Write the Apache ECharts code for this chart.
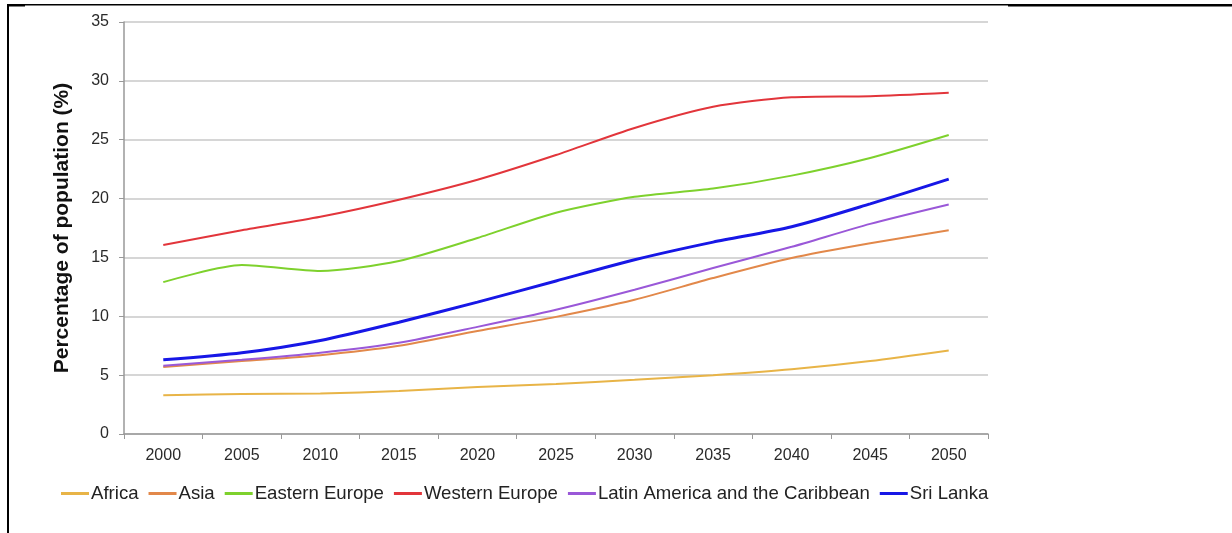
<!DOCTYPE html>
<html>
<head>
<meta charset="utf-8">
<script src="https://cdn.jsdelivr.net/npm/echarts@6/dist/echarts.min.js"></script>
<style>
  html, body { margin: 0; padding: 0; background: #fff; }
  #chart { width: 1232px; height: 533px; }
</style>
</head>
<body>
<div id="chart"></div>
<script>
// Share of population aged 60+ by region, 2000–2050
const years = ['2000', '2005', '2010', '2015', '2020', '2025', '2030', '2035', '2040', '2045', '2050'];
const africa = [3.3, 3.4, 3.45, 3.65, 4.0, 4.25, 4.6, 5.0, 5.5, 6.2, 7.1];
const asia = [5.7, 6.2, 6.7, 7.5, 8.75, 9.95, 11.4, 13.25, 14.95, 16.2, 17.3];
const easternEurope = [12.9, 14.35, 13.85, 14.7, 16.65, 18.8, 20.15, 20.85, 21.95, 23.45, 25.4];
const westernEurope = [16.05, 17.3, 18.45, 19.9, 21.6, 23.7, 26.0, 27.8, 28.6, 28.7, 29.0];
const latinAmerica = [5.8, 6.3, 6.9, 7.75, 9.1, 10.55, 12.25, 14.1, 15.9, 17.85, 19.5];
const sriLanka = [6.3, 6.9, 7.95, 9.5, 11.2, 13.0, 14.8, 16.3, 17.6, 19.55, 21.65];

const chart = echarts.init(document.getElementById('chart'));

function line(name, data, color, width) {
  return {
    name, type: 'line', data, smooth: 0.25, symbol: 'none',
    lineStyle: { color, width }, itemStyle: { color }
  };
}

chart.setOption({
  animation: false,
  backgroundColor: '#fff',
  textStyle: { fontFamily: 'Liberation Sans, Arial, sans-serif' },
  grid: { left: 124, right: 244, top: 22, bottom: 99 },
  graphic: [
    { type: 'rect', shape: { x: 7, y: 4, width: 2, height: 529 }, style: { fill: '#000' } },
    { type: 'rect', shape: { x: 7, y: 4, width: 1001, height: 1.5 }, style: { fill: '#000' } },
    { type: 'rect', shape: { x: 7, y: 4, width: 18, height: 2.5 }, style: { fill: '#000' } },
    { type: 'rect', shape: { x: 1008, y: 4, width: 224, height: 2.5 }, style: { fill: '#000' } }
  ],
  legend: {
    left: 56, top: 479,
    itemWidth: 28, itemHeight: 3, itemGap: 10,
    icon: 'rect',
    textStyle: { fontSize: 18.6, color: '#222', padding: [0, 0, 0, -3] },
    data: ['Africa', 'Asia', 'Eastern Europe', 'Western Europe', 'Latin America and the Caribbean', 'Sri Lanka']
  },
  xAxis: {
    type: 'category', data: years, boundaryGap: true,
    axisLine: { lineStyle: { color: '#999', width: 1.5 } },
    axisTick: { show: true, alignWithLabel: false, length: 5, lineStyle: { color: '#999' } },
    axisLabel: { fontSize: 16, color: '#2a2a2a', margin: 14 },
    splitLine: { show: false }
  },
  yAxis: {
    type: 'value', min: 0, max: 35, interval: 5,
    name: 'Percentage of population (%)',
    nameLocation: 'middle', nameGap: 51,
    nameTextStyle: { fontSize: 21, fontWeight: 'bold', color: '#111' },
    axisLine: { show: true, lineStyle: { color: '#999', width: 1.5 } },
    axisTick: { show: true, length: 5, lineStyle: { color: '#999' } },
    axisLabel: { fontSize: 16, color: '#2a2a2a', margin: 15 },
    splitLine: { lineStyle: { color: '#c8c8c8', width: 1.5 } }
  },
  series: [
    line('Africa', africa, '#E8B447', 2),
    line('Asia', asia, '#E2884A', 2),
    line('Eastern Europe', easternEurope, '#7ED12D', 2),
    line('Western Europe', westernEurope, '#E2353B', 2),
    line('Latin America and the Caribbean', latinAmerica, '#9A58D8', 2),
    line('Sri Lanka', sriLanka, '#1717E6', 3)
  ]
});
</script>
</body>
</html>
